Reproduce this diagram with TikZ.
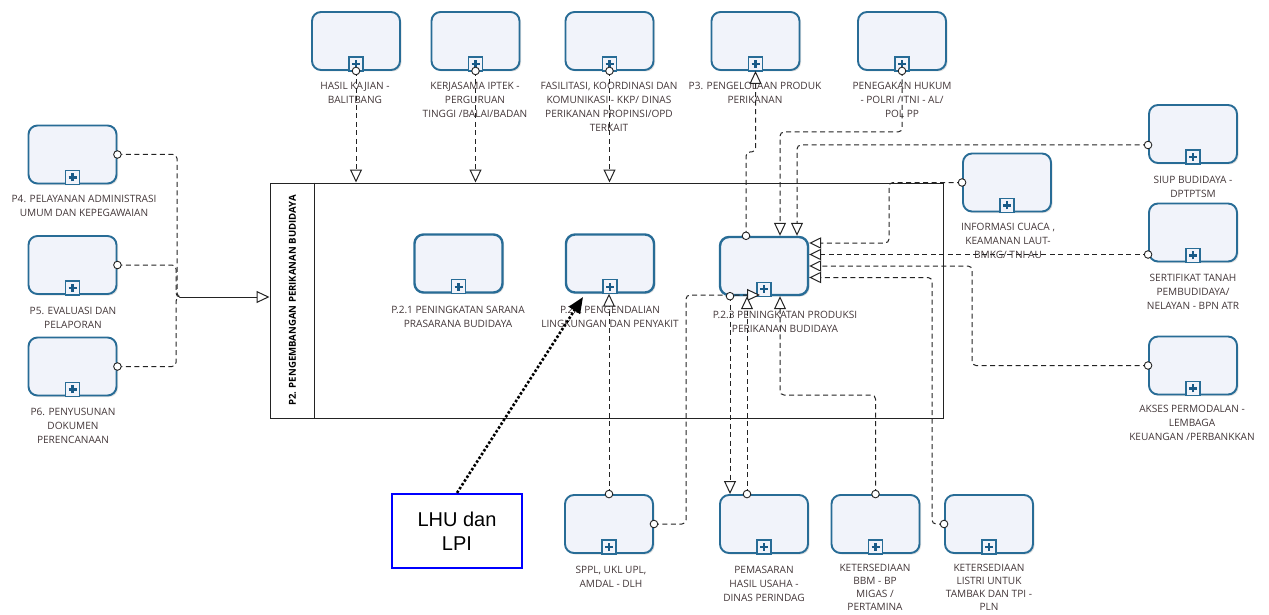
\documentclass[tikz,border=0pt]{standalone}
\usepackage{fontspec}
\setmainfont{Open Sans}
\newfontfamily\arialf{Liberation Sans}
\usetikzlibrary{arrows.meta,shadows}
\definecolor{tb}{RGB}{40,108,150}
\definecolor{tfill}{RGB}{241,243,250}
\definecolor{mkb}{RGB}{25,90,135}
\definecolor{txt}{RGB}{66,54,56}
\definecolor{ln}{RGB}{35,35,35}
\tikzset{
  task/.style={draw=tb, line width=1.9pt, fill=tfill, rounded corners=9pt,
    minimum width=88pt, minimum height=58pt, inner sep=0pt,
    drop shadow={shadow xshift=1.5pt, shadow yshift=-1.5pt, fill=black, opacity=0.12}},
  itask/.style={task, line width=2.4pt},
  lbl/.style={anchor=north, align=center, inner sep=0pt, text=txt,
    font=\fontsize{10.1}{14}\selectfont},
  lbltight/.style={lbl, font=\fontsize{10.1}{13}\selectfont},
  flow/.style={draw=ln, line width=1pt, dash pattern=on 5pt off 3.5pt, rounded corners=4pt},
  tipT/.tip={Triangle[fill=white, length=13pt, width=12pt]},
  tipR/.tip={Triangle[fill=white, length=12pt, width=11.4pt]},
  port/.style={draw=ln, line width=0.9pt, fill=white},
}
\newcommand\bpmnmarker[1]{%
  \draw[tb, line width=1.4pt, fill=tfill] ([xshift=-7pt]#1.south) rectangle ([xshift=7pt,yshift=14pt]#1.south);
  \draw[mkb, line width=2.4pt] ([xshift=-4pt,yshift=7pt]#1.south) -- ([xshift=4pt,yshift=7pt]#1.south);
  \draw[mkb, line width=2.4pt] ([yshift=3pt]#1.south) -- ([yshift=11pt]#1.south);
}
\begin{document}
\begin{tikzpicture}[x=1pt, y=-1pt]
\useasboundingbox (0,0) rectangle (1269,615);

% pool
\node[draw=ln, line width=1pt, minimum width=673pt, minimum height=235pt, inner sep=0pt] (pool) at (606.5,300.5) {};
\draw[ln, line width=1pt] ([xshift=45pt]pool.north west) -- ([xshift=45pt]pool.south west);
\node[rotate=90, text=black, font=\bfseries\fontsize{9.6}{10}\selectfont] (ptitle) at (292.5,300.5) {P2. PENGEMBANGAN PERIKANAN BUDIDAYA};

% tasks
\node[task] (hasil) at (356,41) {};
\node[task] (kerja) at (475.5,41) {};
\node[task] (fasil) at (609.5,41) {};
\node[task] (p3) at (755.5,41) {};
\node[task] (pene) at (902,41) {};
\node[task] (p4) at (72.5,154.5) {};
\node[task] (p5) at (72.5,265) {};
\node[task] (p6) at (72.5,366.5) {};
\node[itask] (p21) at (458.5,263.5) {};
\node[itask] (p22) at (610,263.5) {};
\node[itask] (p23) at (764,266) {};
\node[task] (siup) at (1193,134) {};
\node[task] (info) at (1007,182.5) {};
\node[task] (sert) at (1193,232.5) {};
\node[task] (akses) at (1193,365.5) {};
\node[task] (sppl) at (609,524) {};
\node[task] (pemas) at (764,524) {};
\node[task] (bbm) at (875.5,524) {};
\node[task] (listri) at (989,524) {};
\foreach \n in {hasil,kerja,fasil,p3,pene,p4,p5,p6,p21,p22,p23,siup,info,sert,akses,sppl,pemas,bbm,listri}{\bpmnmarker{\n}}

% labels
\node[lbl] (hasil-l) at (355,82) {HASIL KAJIAN -\\BALITBANG};
\node[lbl] (kerja-l) at (475,82) {KERJASAMA IPTEK -\\PERGURUAN\\TINGGI /BALAI/BADAN};
\node[lbl] (fasil-l) at (609,82) {FASILITASI, KOORDINASI DAN\\KOMUNIKASI - KKP/ DINAS\\PERIKANAN PROPINSI/OPD\\TERKAIT};
\node[lbl] (p3-l) at (755,82) {P3. PENGELOLAAN PRODUK\\PERIKANAN};
\node[lbl] (pene-l) at (902,82) {PENEGAKAN HUKUM\\- POLRI / TNI - AL/\\POL PP};
\node[lbl] (p4-l) at (84,195) {P4. PELAYANAN ADMINISTRASI\\UMUM DAN KEPEGAWAIAN};
\node[lbl] (p5-l) at (73,307) {P5. EVALUASI DAN\\PELAPORAN};
\node[lbl] (p6-l) at (73,408) {P6. PENYUSUNAN\\DOKUMEN\\PERENCANAAN};
\node[lbl] (p21-l) at (458,306) {P.2.1 PENINGKATAN SARANA\\PRASARANA BUDIDAYA};
\node[lbl] (p22-l) at (610,306) {P.2.2 PENGENDALIAN\\LINGKUNGAN DAN PENYAKIT};
\node[lbl] (p23-l) at (785,311) {P.2.3 PENINGKATAN PRODUKSI\\PERIKANAN BUDIDAYA};
\node[lbl] (siup-l) at (1193,176) {SIUP BUDIDAYA -\\DPTPTSM};
\node[lbl] (info-l) at (1008,223) {INFORMASI CUACA ,\\KEAMANAN LAUT-\\BMKG/ TNI AU};
\node[lbl] (sert-l) at (1193,274) {SERTIFIKAT TANAH\\PEMBUDIDAYA/\\NELAYAN - BPN ATR};
\node[lbl] (akses-l) at (1192,405) {AKSES PERMODALAN -\\LEMBAGA\\KEUANGAN /PERBANKKAN};
\node[lbl] (sppl-l) at (611,566) {SPPL, UKL UPL,\\AMDAL - DLH};
\node[lbl] (pemas-l) at (764,566) {PEMASARAN\\HASIL USAHA -\\DINAS PERINDAG};
\node[lbltight] (bbm-l) at (875,564) {KETERSEDIAAN\\BBM - BP\\MIGAS /\\PERTAMINA};
\node[lbltight] (listri-l) at (989,564) {KETERSEDIAAN\\LISTRI UNTUK\\TAMBAK DAN TPI -\\PLN};

% left connectors
\coordinate (j) at (180,297);
\draw[flow] (p4.east) -| (177,297) -- (j);
\draw[flow] (p5.east) -| (176,297) -- (j);
\draw[flow] (p6.east) -| (176,297) -- (j);
\draw[ln, line width=1pt, -tipT] (j) -- (pool.west |- j);

% top connectors
\draw[flow, -tipT] (hasil.south) -- (hasil.south |- pool.north);
\draw[flow, -tipT] (kerja.south) -- (kerja.south |- pool.north);
\draw[flow, -tipT] (fasil.south) -- (fasil.south |- pool.north);
\draw[flow, -tipT] ([xshift=-18pt]p23.north) -- (746,152) -| (p3.south);
\draw[flow, -tipT] (pene.south) -- (902,132) -| ([xshift=16pt]p23.north);
\draw[flow, -tipT] (siup.west |- 0,145) -| ([xshift=33pt]p23.north);

% right connectors
\draw[flow, -tipR] (info.west) -| (889,243) -- (p23.east |- 0,243);
\draw[flow, -tipR] (sert.west |- 0,254.5) -- (p23.east |- 0,254.5);
\draw[flow, -tipR] (akses.west) -| (972,266) -- (p23.east |- 0,266);
\draw[flow, -tipR] (listri.west) -| (932,277.5) -- (p23.east |- 0,277.5);

% bottom connectors
\coordinate (p23in) at (760,295);
\draw[flow, -tipT] (sppl.north) -- (sppl.north |- p22.south);
\draw[flow, -tipT] (sppl.east) -| (686,295) -- (p23in);
\draw[flow, -tipT] ([xshift=-34pt]p23.south) -- ([xshift=-34pt]pemas.north);
\draw[flow, -tipT] ([xshift=-17pt]pemas.north) -- ([xshift=-17pt]p23.south);
\draw[flow, -tipT] (bbm.north) -- (875.5,395) -| ([xshift=16pt]p23.south);

% ports
\foreach \c in {hasil.south, kerja.south, fasil.south, pene.south, info.west, akses.west, listri.west, sppl.north, sppl.east, bbm.north, p4.east, p5.east, p6.east}
  {\draw[port] (\c) circle (3.8pt);}
\draw[port] ([xshift=-18pt]p23.north) circle (3.8pt);
\draw[port] (siup.west |- 0,145) circle (3.8pt);
\draw[port] (sert.west |- 0,254.5) circle (3.8pt);
\draw[port] ([xshift=-34pt]p23.south) circle (3.8pt);
\draw[port] ([xshift=-17pt]pemas.north) circle (3.8pt);

% annotation
\node[draw=blue, line width=2.2pt, fill=white, minimum width=130pt, minimum height=74pt, align=center,
  font=\arialf\fontsize{20}{24}\selectfont] (lhu) at (457,531) {LHU dan\\LPI};
\coordinate (lhuend) at (583,297);
\draw[black, line width=2.6pt, dash pattern=on 2.5pt off 2pt, -{Triangle[length=16pt, width=13pt]}] (lhu.north) -- (lhuend);
\end{tikzpicture}
\end{document}
